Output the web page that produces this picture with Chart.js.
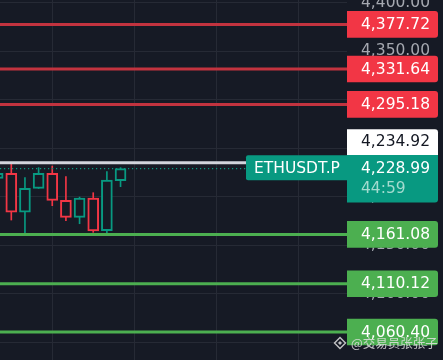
<!DOCTYPE html>
<html><head><meta charset="utf-8">
<script src="https://cdn.jsdelivr.net/npm/chart.js@4.4.1/dist/chart.umd.min.js"></script>
<style>
html,body{margin:0;padding:0;background:#161a25;overflow:hidden;}
#wrap{position:relative;width:443px;height:360px;}
</style></head><body>
<div id="wrap"><canvas id="c"></canvas></div>
<script>
// ---- data ----
const barSlots = [2, 3, 4, 5, 6, 7, 8, 9, 10, 11];
const opens  = [4218.9, 4224.1, 4183.9, 4208.6, 4224.1, 4196.2, 4178.7, 4198.6, 4164.9, 4216.5];
const highs  = [4226.0, 4234.2, 4219.6, 4229.9, 4231.6, 4220.6, 4199.6, 4204.1, 4225.8, 4229.9];
const lows   = [4216.0, 4175.9, 4161.0, 4208.5, 4190.7, 4175.2, 4172.1, 4163.2, 4160.4, 4210.3];
const closes = [4224.1, 4183.9, 4208.6, 4224.1, 4196.2, 4178.7, 4198.6, 4164.6, 4217.2, 4228.99];
const priceTicks = [4050, 4100, 4150, 4200, 4250, 4300, 4350, 4400];
const timeGrid = [6, 12, 18, 24];
const resistanceLevels = [4377.72, 4331.64, 4295.18];
const supportLevels = [4161.08, 4110.12, 4060.40];
const markPrice = 4234.92;
const lastPrice = 4228.99;
const countdown = '44:59';
const symbol = 'ETHUSDT.P';
const watermark = '@交易员张张子';

// ---- style ----
const BG = '#161a25', GRID = '#262a35', UP = '#089981', DOWN = '#f23645';
const RED_LINE = '#c2333f', GREEN = '#4caf50', WHITE_LINE = '#d1d4dc', AXIS_TXT = '#a5a8b0';
const FONT = '15.5px "DejaVu Sans"';
const fmt = v => v.toLocaleString('en-US', {minimumFractionDigits: 2, maximumFractionDigits: 2});
const cols = opens.map((o, i) => closes[i] >= o ? UP : DOWN);

function hline(ctx, a, yp) { ctx.beginPath(); ctx.moveTo(a.left, yp); ctx.lineTo(a.right, yp); ctx.stroke(); }
function box(ctx, x, yTop, w, h, color, radii) {
  ctx.fillStyle = color; ctx.beginPath();
  if (ctx.roundRect) ctx.roundRect(x, yTop, w, h, radii); else ctx.rect(x, yTop, w, h);
  ctx.fill();
}
function txt(ctx, s, x, y, color) { ctx.fillStyle = color; ctx.fillText(s, x, y); }

const levelsPlugin = {
  id: 'levels',
  afterDatasetsDraw(chart) {
    const {ctx, chartArea: a, scales: {y}} = chart;
    ctx.save();
    ctx.beginPath(); ctx.rect(a.left, a.top, a.right - a.left, a.bottom - a.top); ctx.clip();
    ctx.strokeStyle = UP; ctx.lineWidth = 1.2; ctx.setLineDash([1.2, 2.8]);
    hline(ctx, a, y.getPixelForValue(lastPrice));
    ctx.setLineDash([]);
    ctx.lineWidth = 3;
    ctx.strokeStyle = WHITE_LINE; hline(ctx, a, y.getPixelForValue(markPrice));
    ctx.strokeStyle = RED_LINE; resistanceLevels.forEach(v => hline(ctx, a, y.getPixelForValue(v)));
    ctx.strokeStyle = GREEN; supportLevels.forEach(v => hline(ctx, a, y.getPixelForValue(v)));
    ctx.restore();
  },
  afterDraw(chart) {
    const {ctx, chartArea: a, scales: {y}} = chart;
    const bx = a.right, bw = 91, bh = 26.6, tx = a.right + 14;
    ctx.save();
    ctx.font = FONT; ctx.textBaseline = 'middle'; ctx.textAlign = 'left';
    resistanceLevels.forEach(v => {
      const p = y.getPixelForValue(v);
      box(ctx, bx, p - bh / 2, bw, bh, DOWN, [0, 3, 3, 0]);
      txt(ctx, fmt(v), tx, p + 0.5, '#ffffff');
    });
    supportLevels.forEach(v => {
      const p = y.getPixelForValue(v);
      box(ctx, bx, p - bh / 2, bw, bh, GREEN, [0, 3, 3, 0]);
      txt(ctx, fmt(v), tx, p + 0.5, '#ffffff');
    });
    // last price box (two lines) and mark price box stacked above it
    const lp = y.getPixelForValue(lastPrice);
    const tTop = lp - 13.6;
    box(ctx, bx, tTop - 25.7, bw, 25.7, '#ffffff', [0, 3, 0, 0]);
    txt(ctx, fmt(markPrice), tx, tTop - 12.6, '#131722');
    box(ctx, bx, tTop, bw, 47.6, UP, [0, 0, 3, 0]);
    txt(ctx, fmt(lastPrice), tx, lp + 0.5, '#ffffff');
    txt(ctx, countdown, tx, lp + 20.5, '#a3dbcf');
    // symbol label
    box(ctx, 246, tTop + 0.3, bx - 246, 25, UP, [2, 0, 0, 2]);
    txt(ctx, symbol, 254, lp, '#ffffff');
    // watermark
    const wy = 343, ix = 340;
    ctx.fillStyle = 'rgba(225,225,225,0.85)';
    ctx.strokeStyle = 'rgba(225,225,225,0.85)';
    ctx.lineWidth = 1.4;
    ctx.beginPath(); ctx.moveTo(ix, wy - 5.5); ctx.lineTo(ix + 5.5, wy); ctx.lineTo(ix, wy + 5.5); ctx.lineTo(ix - 5.5, wy); ctx.closePath(); ctx.stroke();
    ctx.beginPath(); ctx.moveTo(ix, wy - 2); ctx.lineTo(ix + 2, wy); ctx.lineTo(ix, wy + 2); ctx.lineTo(ix - 2, wy); ctx.closePath(); ctx.fill();
    ctx.font = '12.5px "Noto Sans CJK SC"';
    ctx.fillText(watermark, 351, wy + 0.5);
    ctx.restore();
  }
};

new Chart(document.getElementById('c'), {
  type: 'bar',
  data: {
    datasets: [
      {
        label: 'wick',
        data: barSlots.map((x, i) => ({x, y: [lows[i], highs[i]]})),
        backgroundColor: cols, borderWidth: 0, barThickness: 1, grouped: false, order: 2
      },
      {
        label: 'body',
        data: barSlots.map((x, i) => ({x, y: [opens[i], closes[i]]})),
        backgroundColor: BG, borderColor: cols, borderWidth: 2, borderSkipped: false,
        barThickness: 11, grouped: false, order: 1
      }
    ]
  },
  options: {
    responsive: true, maintainAspectRatio: false, animation: false, events: [],
    layout: {padding: 0},
    plugins: {legend: {display: false}, tooltip: {enabled: false}},
    scales: {
      x: {
        type: 'linear', min: 2.173, max: 27.585, bounds: 'data', offset: false,
        grid: {color: GRID, drawTicks: false, lineWidth: 1, offset: false},
        border: {display: false},
        ticks: {display: false},
        afterBuildTicks: s => { s.ticks = timeGrid.map(v => ({value: v})); },
        afterFit: s => { s.height = 0; }
      },
      y: {
        position: 'right', min: 4031.5, max: 4402.9, bounds: 'data',
        grid: {color: GRID, drawTicks: false, lineWidth: 1},
        border: {display: false},
        ticks: {color: AXIS_TXT, font: {family: 'DejaVu Sans', size: 15.5}, padding: 14, callback: v => fmt(v)},
        afterBuildTicks: s => { s.ticks = priceTicks.map(v => ({value: v})); },
        afterFit: s => { s.width = 96; s.paddingTop = 0; s.paddingBottom = 0; }
      }
    }
  },
  plugins: [levelsPlugin]
});
</script>
</body></html>
